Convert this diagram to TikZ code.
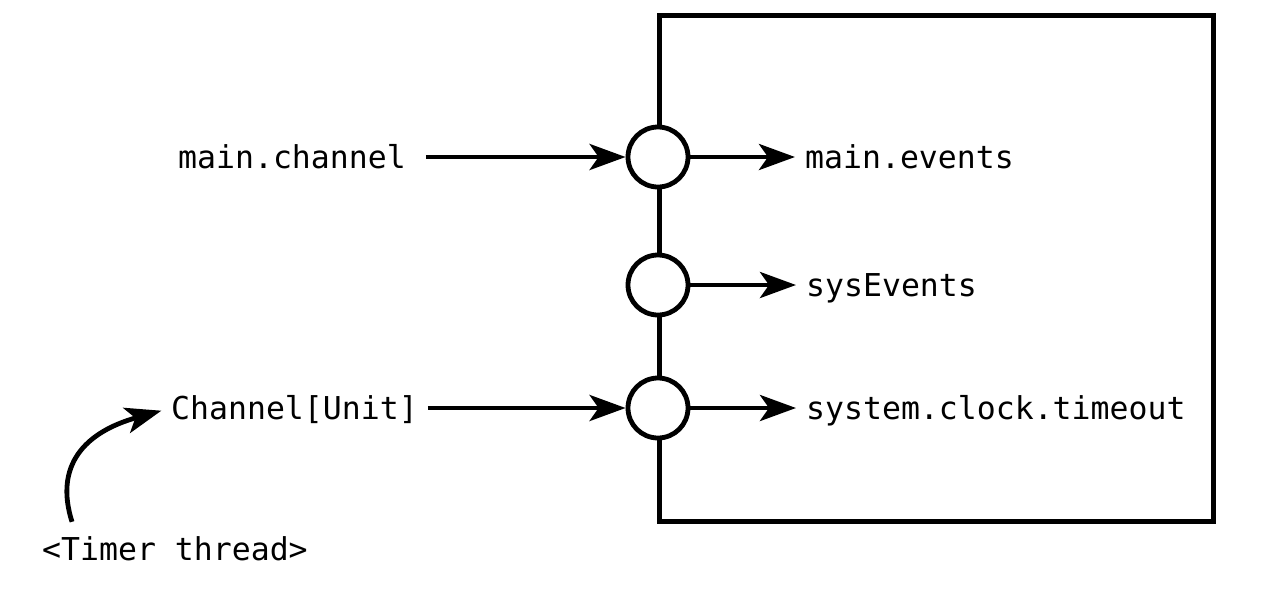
\documentclass[tikz,border=0pt]{standalone}
\usepackage{fontspec}
\setmonofont{DejaVu Sans Mono}
\usetikzlibrary{arrows.meta}
\begin{document}
\begin{tikzpicture}[x=1pt,y=-1pt,
  lbl/.style={font=\ttfamily\fontsize{31.5}{36}\selectfont, inner sep=0pt, text height=22pt, text depth=0pt, anchor=west},
  port/.style={circle, draw, line width=4.8pt, fill=white, minimum size=60pt, inner sep=0pt},
  arr/.style={line width=4.8pt, -{Stealth[length=36pt,width=26pt,inset=9pt]}}]
\useasboundingbox (0,0) rectangle (1280,595);
\node[draw, line width=4.8pt, minimum width=554pt, minimum height=506pt, anchor=north west, inner sep=0pt] (box) at (657,13) {};
\node[port] (c1) at (658,157) {};
\node[port] (c2) at (658,285) {};
\node[port] (c3) at (658,408) {};
\node[lbl] (t1) at (178,157) {main.channel};
\node[lbl] (t2) at (171,408) {Channel[Unit]};
\node[lbl] (t3) at (42,549) {<Timer thread>};
\node[lbl] (o1) at (805,157) {main.events};
\node[lbl] (o2) at (806,285) {sysEvents};
\node[lbl] (o3) at (806,408) {system.clock.timeout};
\draw[arr, shorten <=20pt, shorten >=0pt] (t1.east) -- (c1.west);
\draw[arr, shorten <=10pt, shorten >=0pt] (t2.east) -- (c3.west);
\draw[arr, shorten >=10pt] (c1.east) -- (o1.west);
\draw[arr, shorten >=10pt] (c2.east) -- (o2.west);
\draw[arr, shorten >=10pt] (c3.east) -- (o3.west);
\draw[arr, shorten >=10pt] ([xshift=30pt,yshift=16pt]t3.north west) .. controls (54,465) and (85,432) .. (t2.west);
\end{tikzpicture}
\end{document}
